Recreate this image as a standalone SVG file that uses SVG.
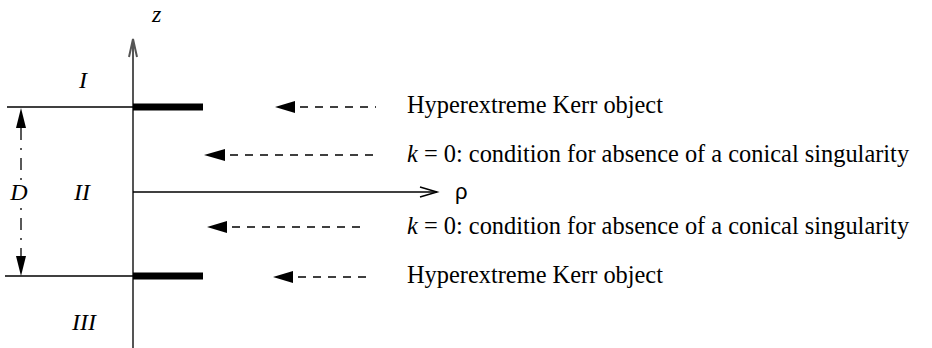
<svg xmlns="http://www.w3.org/2000/svg" width="932" height="348" viewBox="0 0 932 348">
<defs>
<style>
.ln{stroke:#000;stroke-width:1.5;fill:none}
.ax{stroke:#555;stroke-width:2;fill:none}
.bar{stroke:#000;stroke-width:7;fill:none}
.dash{stroke:#000;stroke-width:1.3;stroke-dasharray:8,7;fill:none}
.head{fill:#000}
</style>
</defs>
<rect width="932" height="348" fill="#fff"/>
<g id="axes">
<line class="ax" x1="133" y1="39" x2="133" y2="348"/>
<polyline class="ax" points="129,57 133,39 137,57"/>
<text x="152" y="22" font-family="Liberation Serif" font-style="italic" font-size="24">z</text>
<line class="ln" x1="133" y1="192" x2="437" y2="192"/>
<polyline class="ln" points="420,187 437,192 420,197"/>
<text x="455" y="199" font-family="Liberation Sans" font-size="22">ρ</text>
</g>
<g id="boundaries">
<line class="ln" x1="7" y1="107" x2="133" y2="107"/>
<line class="ln" x1="5" y1="276" x2="133" y2="276"/>
<line class="bar" x1="133" y1="107" x2="203" y2="107"/>
<line class="bar" x1="133" y1="276" x2="203" y2="276"/>
</g>
<g id="regions" font-family="Liberation Serif" font-style="italic" font-size="24" text-anchor="middle">
<text x="83" y="88">I</text>
<text x="82" y="200">II</text>
<text x="84" y="330">III</text>
</g>
<g id="distance">
<polygon class="head" points="21,108 16,128 26,128"/>
<polygon class="head" points="21,276 16,256 26,256"/>
<line x1="21" y1="128" x2="21" y2="256" stroke="#000" stroke-width="1.3" stroke-dasharray="12,8,2,8"/>
<rect x="10" y="180" width="22" height="24" fill="#fff"/>
<text x="19" y="200" text-anchor="middle" font-family="Liberation Serif" font-style="italic" font-size="24">D</text>
</g>
<g id="connectors">
<polygon class="head" points="275,107 295,101 295,113"/>
<line class="dash" x1="300" y1="107" x2="376" y2="107"/>
<polygon class="head" points="204,155 225,149 225,161"/>
<line class="dash" x1="230" y1="155" x2="374" y2="155"/>
<polygon class="head" points="207,227 227,221 227,233"/>
<line class="dash" x1="232" y1="227" x2="366" y2="227"/>
<polygon class="head" points="273,277 293,271 293,283"/>
<line class="dash" x1="298" y1="277" x2="366" y2="277"/>
</g>
<g id="labels" font-family="Liberation Serif" font-size="24.4">
<text x="407" y="113">Hyperextreme Kerr object</text>
<text x="407" y="162"><tspan font-style="italic">k</tspan> = 0: condition for absence of a conical singularity</text>
<text x="407" y="234"><tspan font-style="italic">k</tspan> = 0: condition for absence of a conical singularity</text>
<text x="407" y="283">Hyperextreme Kerr object</text>
</g>
</svg>
